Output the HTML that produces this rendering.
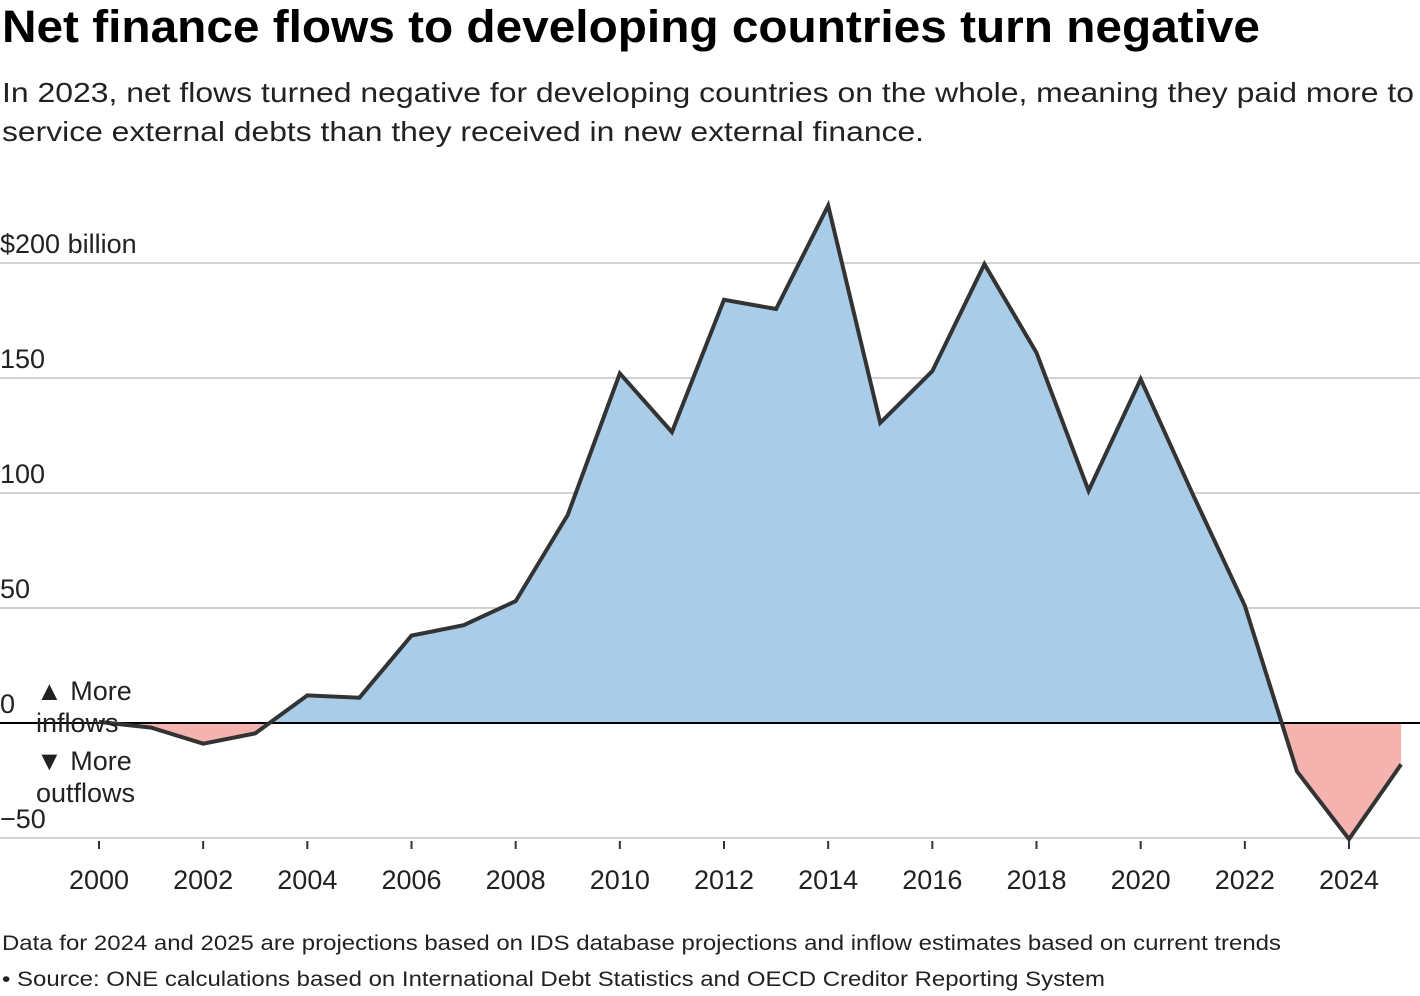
<!DOCTYPE html>
<html><head><meta charset="utf-8"><style>
body{margin:0;background:#fff;font-family:"Liberation Sans",sans-serif;}
svg{display:block}
</style></head><body>
<svg id="chart" width="1420" height="996" xmlns="http://www.w3.org/2000/svg" font-family="Liberation Sans, sans-serif">
<text x="2" y="42" font-size="45" font-weight="bold" fill="#000" textLength="1258" lengthAdjust="spacingAndGlyphs">Net finance flows to developing countries turn negative</text>
<text x="2" y="102" font-size="28" fill="#222" textLength="1412" lengthAdjust="spacingAndGlyphs">In 2023, net flows turned negative for developing countries on the whole, meaning they paid more to</text>
<text x="2" y="141" font-size="28" fill="#222" textLength="922" lengthAdjust="spacingAndGlyphs">service external debts than they received in new external finance.</text>
<g id="plot"></g>
<text x="2" y="950" font-size="21" fill="#222" textLength="1279" lengthAdjust="spacingAndGlyphs">Data for 2024 and 2025 are projections based on IDS database projections and inflow estimates based on current trends</text>
<text x="2" y="986" font-size="21" fill="#222" textLength="1103" lengthAdjust="spacingAndGlyphs">• Source: ONE calculations based on International Debt Statistics and OECD Creditor Reporting System</text>
</svg>
<script>
const years=[2000,2001,2002,2003,2004,2005,2006,2007,2008,2009,2010,2011,2012,2013,2014,2015,2016,2017,2018,2019,2020,2021,2022,2023,2024,2025];
const netFlows=[0.5,-2,-9,-4.5,12,11,38,42.5,53,90.5,152,126.5,184,180,225,130.5,153,199.5,161,101,149.5,99.5,51,-21,-50.5,-18];
const yTicks=[-50,0,50,100,150,200];
const yTickLabels=["\u221250","0","50","100","150","$200 billion"];
const xTicks=[2000,2002,2004,2006,2008,2010,2012,2014,2016,2018,2020,2022,2024];
const NS="http://www.w3.org/2000/svg";
const g=document.getElementById('plot');
const x=v=>99+(v-2000)*(1349-99)/24;
const y=v=>723-v*2.3;
function mk(t,a,p){const e=document.createElementNS(NS,t);for(const k in a)e.setAttribute(k,a[k]);(p||g).appendChild(e);return e;}
yTicks.forEach((t,i)=>{
 if(t!==0){const l=mk('line',{x1:0,x2:1420,y1:y(t),y2:y(t),stroke:'#c4c4c4','stroke-width':1.5});
 
 }
 const tx=mk('text',{x:0,y:y(t)-10,'font-size':27,fill:'#222'});tx.textContent=yTickLabels[i];
 
 
});
const defs=mk('defs',{});
const c1=mk('clipPath',{id:'above'},defs);mk('rect',{x:0,y:0,width:1420,height:y(0)},c1);
const c2=mk('clipPath',{id:'below'},defs);mk('rect',{x:0,y:y(0),width:1420,height:300},c2);
let d='M'+x(years[0])+','+y(0);
years.forEach((yr,i)=>{d+='L'+x(yr)+','+y(netFlows[i]);});
d+='L'+x(years[years.length-1])+','+y(0)+'Z';
const a1=mk('path',{d:d,fill:'#a9cce8','clip-path':'url(#above)'});


const a2=mk('path',{d:d,fill:'#f4b3ae','clip-path':'url(#below)'});


const z=mk('line',{x1:0,x2:1420,y1:y(0),y2:y(0),stroke:'#000','stroke-width':2});


let ld='';years.forEach((yr,i)=>{ld+=(i?'L':'M')+x(yr)+','+y(netFlows[i]);});
const ln=mk('path',{d:ld,fill:'none',stroke:'#333','stroke-width':4,'stroke-linejoin':'miter'});


xTicks.forEach(t=>{
 const tk=mk('line',{x1:x(t),x2:x(t),y1:841,y2:849,stroke:'#333','stroke-width':2});
 
 
 const tx=mk('text',{x:x(t),y:889,'font-size':27,fill:'#222','text-anchor':'middle'});tx.textContent=t;
 
 
});
[['\u25B2 More',36,700,'annotation-more-inflows'],['inflows',36,732,'annotation-more-inflows-2'],['\u25BC More',36,770,'annotation-more-outflows'],['outflows',36,802,'annotation-more-outflows-2']].forEach(r=>{
 const tx=mk('text',{x:r[1],y:r[2],'font-size':27,fill:'#222'});tx.textContent=r[0];
 
 
});
</script>
</body></html>
